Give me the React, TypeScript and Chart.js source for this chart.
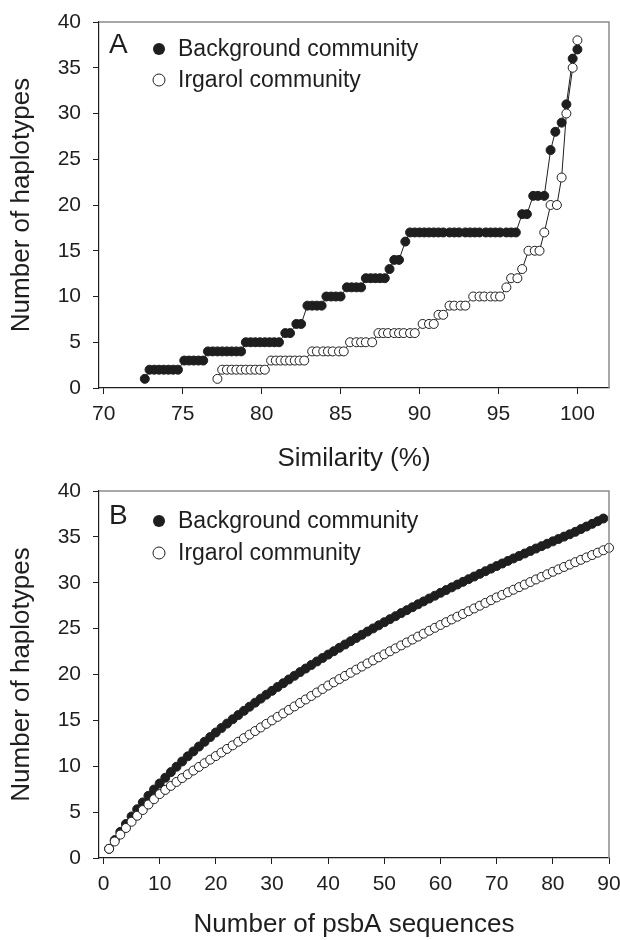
import { useEffect, useRef } from "react";
import { Chart, registerables } from "chart.js";

Chart.register(...registerables);

const FONT = "'Liberation Sans', Arial, Helvetica, sans-serif";
const INK = "#1e1e1e";

// ---------- text ----------
const legendLabels = ["Background community", "Irgarol community"];
const panelLetters = ["A", "B"];
const yTitle = "Number of haplotypes";
const xTitleA = "Similarity (%)";
const xTitleB = "Number of psbA sequences";

// ---------- ticks ----------
const yTicks = [0, 5, 10, 15, 20, 25, 30, 35, 40];
const xTicksA = [70, 75, 80, 85, 90, 95, 100];
const xTicksB = [0, 10, 20, 30, 40, 50, 60, 70, 80, 90];

// ---------- panel A: haplotypes vs similarity ----------
const bgSimilarity = [
  72.6, 72.9, 73.2, 73.5, 73.8, 74.1, 74.4, 74.7, 75.1, 75.4, 75.7, 76.0, 76.3,
  76.6, 76.9, 77.2, 77.5, 77.8, 78.1, 78.4, 78.7, 79.0, 79.3, 79.6, 79.9, 80.2,
  80.5, 80.8, 81.1, 81.5, 81.8, 82.2, 82.5, 82.9, 83.2, 83.5, 83.8, 84.1, 84.4,
  84.7, 85.0, 85.4, 85.7, 86.0, 86.3, 86.6, 86.9, 87.2, 87.5, 87.8, 88.1, 88.4,
  88.7, 89.1, 89.4, 89.7, 90.0, 90.3, 90.6, 90.9, 91.2, 91.5, 91.9, 92.2, 92.5,
  92.9, 93.2, 93.5, 93.8, 94.2, 94.5, 94.8, 95.1, 95.5, 95.8, 96.1, 96.5, 96.8,
  97.2, 97.5, 97.9, 98.3, 98.6, 99.0, 99.3, 99.7, 100.0,
];
const bgHaplotypesA = [
  1, 2, 2, 2, 2, 2, 2, 2, 3, 3, 3, 3, 3,
  4, 4, 4, 4, 4, 4, 4, 4, 5, 5, 5, 5, 5,
  5, 5, 5, 6, 6, 7, 7, 9, 9, 9, 9, 10, 10,
  10, 10, 11, 11, 11, 11, 12, 12, 12, 12, 12, 13, 14,
  14, 16, 17, 17, 17, 17, 17, 17, 17, 17, 17, 17, 17,
  17, 17, 17, 17, 17, 17, 17, 17, 17, 17, 17, 19, 19,
  21, 21, 21, 26, 28, 29, 31, 36, 37,
];
const irSimilarity = [
  77.2, 77.5, 77.8, 78.1, 78.4, 78.7, 79.0, 79.3, 79.6, 79.9, 80.2, 80.6, 80.9,
  81.2, 81.5, 81.8, 82.1, 82.4, 82.7, 83.2, 83.5, 83.9, 84.2, 84.5, 84.9, 85.2,
  85.6, 86.0, 86.3, 86.6, 87.0, 87.4, 87.7, 88.0, 88.4, 88.7, 89.0, 89.4, 89.7,
  90.2, 90.6, 90.9, 91.2, 91.5, 91.9, 92.2, 92.6, 92.9, 93.4, 93.8, 94.1, 94.5,
  94.8, 95.1, 95.5, 95.8, 96.2, 96.5, 96.9, 97.3, 97.6, 97.9, 98.3, 98.7, 99.0,
  99.3, 99.7, 100.0,
];
const irHaplotypesA = [
  1, 2, 2, 2, 2, 2, 2, 2, 2, 2, 2, 3, 3,
  3, 3, 3, 3, 3, 3, 4, 4, 4, 4, 4, 4, 4,
  5, 5, 5, 5, 5, 6, 6, 6, 6, 6, 6, 6, 6,
  7, 7, 7, 8, 8, 9, 9, 9, 9, 10, 10, 10, 10,
  10, 10, 11, 12, 12, 13, 15, 15, 15, 17, 20, 20, 23,
  30, 35, 38,
];

// ---------- panel B: rarefaction (haplotypes vs number of sequences) ----------
const bgRarefaction = [
  1.0, 1.95, 2.85, 3.71, 4.53, 5.31, 6.06, 6.78, 7.46, 8.12,
  8.75, 9.36, 9.95, 10.52, 11.08, 11.62, 12.15, 12.67, 13.18, 13.68,
  14.17, 14.65, 15.12, 15.58, 16.04, 16.49, 16.93, 17.37, 17.8, 18.22,
  18.64, 19.05, 19.46, 19.86, 20.26, 20.65, 21.04, 21.42, 21.8, 22.17,
  22.54, 22.91, 23.27, 23.63, 23.98, 24.33, 24.68, 25.02, 25.36, 25.7,
  26.03, 26.36, 26.69, 27.01, 27.33, 27.65, 27.97, 28.28, 28.59, 28.9,
  29.2, 29.5, 29.8, 30.1, 30.39, 30.68, 30.97, 31.26, 31.54, 31.82,
  32.1, 32.38, 32.65, 32.92, 33.19, 33.46, 33.73, 33.99, 34.25, 34.51,
  34.77, 35.03, 35.28, 35.55, 35.85, 36.13, 36.42, 36.71, 37.0,
];
const irRarefaction = [
  1.0, 1.8, 2.55, 3.27, 3.95, 4.6, 5.23, 5.83, 6.41, 6.97,
  7.42, 7.86, 8.29, 8.71, 9.12, 9.53, 9.93, 10.33, 10.72, 11.11,
  11.5, 11.89, 12.28, 12.67, 13.06, 13.45, 13.84, 14.23, 14.62, 15.0,
  15.38, 15.76, 16.14, 16.52, 16.9, 17.28, 17.66, 18.04, 18.42, 18.8,
  19.15, 19.5, 19.85, 20.19, 20.53, 20.87, 21.21, 21.54, 21.87, 22.2,
  22.53, 22.85, 23.17, 23.49, 23.81, 24.13, 24.45, 24.77, 25.09, 25.4,
  25.7, 26.0, 26.3, 26.6, 26.9, 27.2, 27.5, 27.8, 28.1, 28.4,
  28.68, 28.96, 29.24, 29.52, 29.8, 30.08, 30.36, 30.64, 30.92, 31.2,
  31.46, 31.72, 31.98, 32.24, 32.5, 32.76, 33.02, 33.28, 33.54, 33.8,
];

type Pt = { x: number; y: number };
const pairs = (xs: number[], ys: number[]): Pt[] => xs.map((x, i) => ({ x, y: ys[i] }));
const bySeqCount = (ys: number[]): Pt[] => ys.map((y, i) => ({ x: i + 1, y }));

type Panel = {
  width: number;
  height: number;
  padTop: number;
  xMin: number;
  xMax: number;
  xTicks: number[];
  xTitle: string;
  xTitlePadBottom: number;
  xAxisHeight: number;
  letter: string;
  letterDy: number;
  legendDy: number[];
  showLine: boolean;
  bg: Pt[];
  ir: Pt[];
};

function overlay(p: Panel) {
  return {
    id: "overlay",
    afterDraw(chart: any) {
      const { ctx, chartArea: a } = chart;
      ctx.save();
      // grey top/right frame
      ctx.strokeStyle = "#8c8c8c";
      ctx.lineWidth = 1.5;
      ctx.beginPath();
      ctx.moveTo(a.left, a.top);
      ctx.lineTo(a.right, a.top);
      ctx.lineTo(a.right, a.bottom);
      ctx.stroke();
      // panel letter
      ctx.fillStyle = INK;
      ctx.textAlign = "left";
      ctx.textBaseline = "middle";
      ctx.font = `28px ${FONT}`;
      ctx.fillText(p.letter, 109, a.top + p.letterDy);
      // legend
      ctx.font = `23px ${FONT}`;
      legendLabels.forEach((label, i) => {
        const y = a.top + p.legendDy[i];
        ctx.beginPath();
        ctx.arc(159, y, 6, 0, Math.PI * 2);
        if (i === 0) {
          ctx.fillStyle = INK;
          ctx.fill();
        } else {
          ctx.fillStyle = "#ffffff";
          ctx.fill();
          ctx.lineWidth = 1;
          ctx.strokeStyle = INK;
          ctx.stroke();
        }
        ctx.fillStyle = INK;
        ctx.fillText(label, 178, y + 1);
      });
      ctx.restore();
    },
  };
}

function makeConfig(p: Panel): any {
  const tickFont = { family: FONT, size: 21 };
  const titleFont = { family: FONT, size: 26 };
  return {
    type: "scatter",
    data: {
      datasets: [
        {
          label: legendLabels[0],
          data: p.bg,
          showLine: p.showLine,
          borderColor: INK,
          borderWidth: 1,
          pointRadius: 4.5,
          pointBackgroundColor: INK,
          pointBorderColor: INK,
          pointBorderWidth: 1,
          clip: false,
          order: 1,
        },
        {
          label: legendLabels[1],
          data: p.ir,
          showLine: p.showLine,
          borderColor: INK,
          borderWidth: 1,
          pointRadius: 4.5,
          pointBackgroundColor: "#ffffff",
          pointBorderColor: INK,
          pointBorderWidth: 1,
          clip: false,
          order: 0,
        },
      ],
    },
    options: {
      responsive: false,
      animation: false,
      events: [],
      layout: { padding: { top: p.padTop, right: 11, left: 0, bottom: 0 } },
      plugins: { legend: { display: false }, tooltip: { enabled: false } },
      scales: {
        x: {
          type: "linear",
          min: p.xMin,
          max: p.xMax,
          afterFit: (s: any) => {
            s.height = p.xAxisHeight;
            s.paddingLeft = 0;
            s.paddingRight = 0;
          },
          afterBuildTicks: (s: any) => {
            s.ticks = p.xTicks.map((v) => ({ value: v }));
          },
          grid: { drawOnChartArea: false, drawTicks: true, tickLength: 6, color: INK, lineWidth: 1 },
          border: { color: INK, width: 1.2 },
          ticks: { color: INK, font: tickFont, padding: 8, maxRotation: 0, autoSkip: false },
          title: {
            display: true,
            text: p.xTitle,
            color: INK,
            font: titleFont,
            padding: { top: 0, bottom: p.xTitlePadBottom },
          },
        },
        y: {
          type: "linear",
          min: 0,
          max: 40,
          afterFit: (s: any) => {
            s.width = 99;
            s.paddingTop = 0;
            s.paddingBottom = 0;
          },
          afterBuildTicks: (s: any) => {
            s.ticks = yTicks.map((v) => ({ value: v }));
          },
          grid: { drawOnChartArea: false, drawTicks: true, tickLength: 6, color: INK, lineWidth: 1 },
          border: { color: INK, width: 1.2 },
          ticks: { color: INK, font: tickFont, padding: 12, autoSkip: false },
          title: {
            display: true,
            text: yTitle,
            color: INK,
            font: titleFont,
            padding: { top: 6, bottom: 0 },
          },
        },
      },
    },
    plugins: [overlay(p)],
  };
}

// Panel A canvas spans page y 0..475, plot area 22..388
const panelA: Panel = {
  width: 620,
  height: 475,
  padTop: 22,
  xMin: 69.7,
  xMax: 102,
  xTicks: xTicksA,
  xTitle: xTitleA,
  xTitlePadBottom: 1,
  xAxisHeight: 87,
  letter: panelLetters[0],
  letterDy: 23,
  legendDy: [27, 58],
  showLine: true,
  bg: pairs(bgSimilarity, bgHaplotypesA),
  ir: pairs(irSimilarity, irHaplotypesA),
};

// Panel B canvas spans page y 465..940, plot area 491..858
const panelB: Panel = {
  width: 620,
  height: 475,
  padTop: 26,
  xMin: -0.8,
  xMax: 90,
  xTicks: xTicksB,
  xTitle: xTitleB,
  xTitlePadBottom: 0,
  xAxisHeight: 82,
  letter: panelLetters[1],
  letterDy: 25,
  legendDy: [30, 62],
  showLine: false,
  bg: bySeqCount(bgRarefaction),
  ir: bySeqCount(irRarefaction),
};

function PanelChart({ panel, top }: { panel: Panel; top: number }) {
  const ref = useRef<HTMLCanvasElement | null>(null);
  useEffect(() => {
    if (!ref.current) return;
    const chart = new Chart(ref.current, makeConfig(panel));
    return () => chart.destroy();
  }, [panel]);
  return (
    <canvas
      ref={ref}
      width={panel.width}
      height={panel.height}
      style={{ position: "absolute", left: 0, top, width: panel.width, height: panel.height }}
    />
  );
}

export default function App() {
  return (
    <div
      style={{
        position: "absolute",
        left: 0,
        top: 0,
        width: 620,
        height: 940,
        overflow: "hidden",
        background: "#fff",
      }}
    >
      <PanelChart panel={panelA} top={0} />
      <PanelChart panel={panelB} top={465} />
    </div>
  );
}
